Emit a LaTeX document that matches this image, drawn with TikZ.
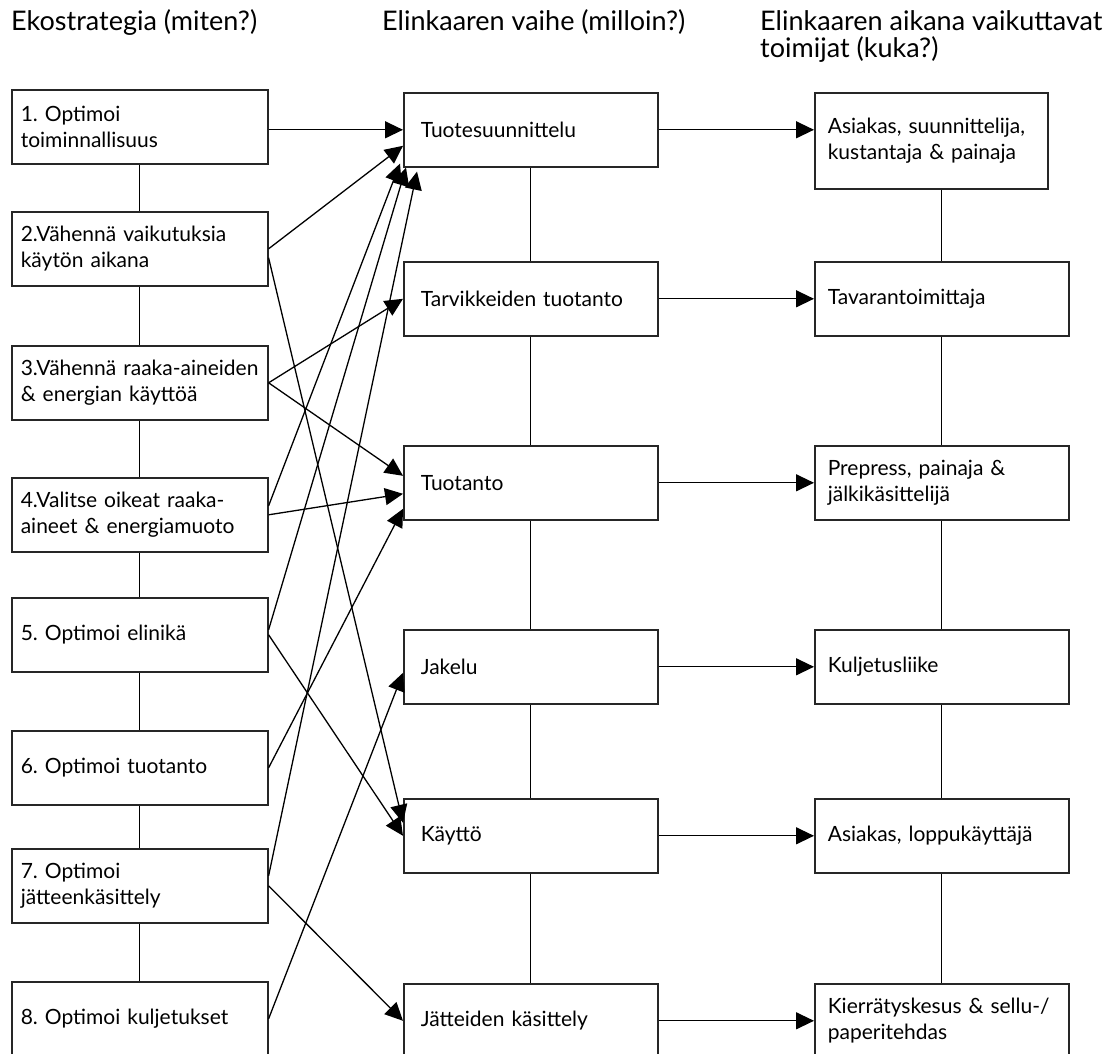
\documentclass[tikz,border=0pt]{standalone}
\usepackage{fontspec}
\setmainfont{Lato}
\usetikzlibrary{arrows.meta,calc}
\frenchspacing

\begin{document}
\begin{tikzpicture}[x=1pt,y=-1pt,font=\fontsize{21}{26}\selectfont,>={Triangle[length=18pt,width=17pt]},
    head/.style={anchor=base west,inner sep=0pt,align=left,font=\fontsize{27}{27}\selectfont},
    box/.style={draw=black!85,line width=1.6pt,anchor=north west,minimum height=74pt,align=left,inner ysep=0pt},
    lbox/.style={box,text width=238pt,inner xsep=9pt},
    mbox/.style={box,text width=220pt,inner xsep=17pt},
    rbox/.style={box,text width=228pt,inner xsep=13pt},
    link/.style={line width=1.3pt},
    flow/.style={->,line width=1.3pt}]
    \useasboundingbox (0,0) rectangle (1117,1054);
    % headers
    \node[head] (h1) at (11,31) {Ekostrategia (miten?)};
    \node[head] (h2) at (382,31) {Elinkaaren vaihe (milloin?)};
    \node[head] (h3) at (760,58) {Elinkaaren aikana vaikuttavat\\toimijat (kuka?)};
    % strategies
    \node[lbox] (l1) at (11,89) {1. Optimoi\\toiminnallisuus};
    \node[lbox] (l2) at (11,211) {2.Vähennä vaikutuksia\\käytön aikana};
    \node[lbox] (l3) at (11,345) {3.Vähennä raaka-aineiden\\\& energian käyttöä};
    \node[lbox] (l4) at (11,477) {4.Valitse oikeat raaka-\\aineet \& energiamuoto};
    \node[lbox] (l5) at (11,597) {5. Optimoi elinikä};
    \node[lbox] (l6) at (11,730) {6. Optimoi tuotanto};
    \node[lbox] (l7) at (11,848) {7. Optimoi\\jätteenkäsittely};
    \node[lbox] (l8) at (11,981) {8. Optimoi kuljetukset};
    % life cycle phases
    \node[mbox] (t1) at (403,92) {Tuotesuunnittelu};
    \node[mbox] (t2) at (403,261) {Tarvikkeiden tuotanto};
    \node[mbox] (t3) at (403,445) {Tuotanto};
    \node[mbox] (t4) at (403,629) {Jakelu};
    \node[mbox] (t5) at (403,798) {Käyttö};
    \node[mbox] (t6) at (403,983) {Jätteiden käsittely};
    % actors
    \node[rbox,text width=207pt,minimum height=96pt] (r1) at (814,92) {Asiakas, suunnittelija,\\kustantaja \& painaja};
    \node[rbox] (r2) at (814,261) {Tavarantoimittaja};
    \node[rbox] (r3) at (814,445) {Prepress, painaja \&\\jälkikäsittelijä};
    \node[rbox] (r4) at (814,629) {Kuljetusliike};
    \node[rbox] (r5) at (814,798) {Asiakas, loppukäyttäjä};
    \node[rbox] (r6) at (814,983) {\mbox{Kierrätyskesus \& sellu-/}\\paperitehdas};
    % columns
    \foreach \a/\b in {l1/l2,l2/l3,l3/l4,l4/l5,l5/l6,l6/l7,l7/l8,t1/t2,t2/t3,t3/t4,t4/t5,t5/t6,r2/r3,r3/r4,r4/r5,r5/r6}
      \draw[link] (\a) -- (\b);
    \draw[link] (r1.south -| r2.north) -- (r2.north);
    % strategy -> phase
    \draw[flow] (l1.east |- t1.west) -- (t1.west);
    \draw[flow] (l2.east) -- ($(t1.west)+(0,16)$);
    \draw[flow] ($(l2.east)+(0,9)$) -- ($(t5.west)+(0,-13)$);
    \draw[flow] (l3.east) -- (t2.west);
    \draw[flow] (l3.east) -- ($(t3.west)+(0,-7)$);
    \draw[flow] ($(l4.east)+(0,-9)$) -- ($(t1.south west)+(-3,-4)$);
    \draw[flow] (l4.east) -- ($(t3.west)+(0,11)$);
    \draw[flow] ($(l5.east)+(0,-5)$) -- ($(t1.south west)+(3,0)$);
    \draw[flow] (l5.east) -- (t5.west);
    \draw[flow] (l6.east) -- ($(t3.west)+(0,26)$);
    \draw[flow] ($(l7.east)+(0,-10)$) -- ($(t1.south west)+(14,4)$);
    \draw[flow] (l7.east) -- (t6.west);
    \draw[flow] (l8.east) -- ($(t4.west)+(0,6)$);
    % phase -> actor
    \foreach \a/\b in {t1/r1,t2/r2,t3/r3,t4/r4,t5/r5,t6/r6}
      \draw[flow] (\a.east) -- (\a.east -| \b.west);
\end{tikzpicture}
\end{document}
